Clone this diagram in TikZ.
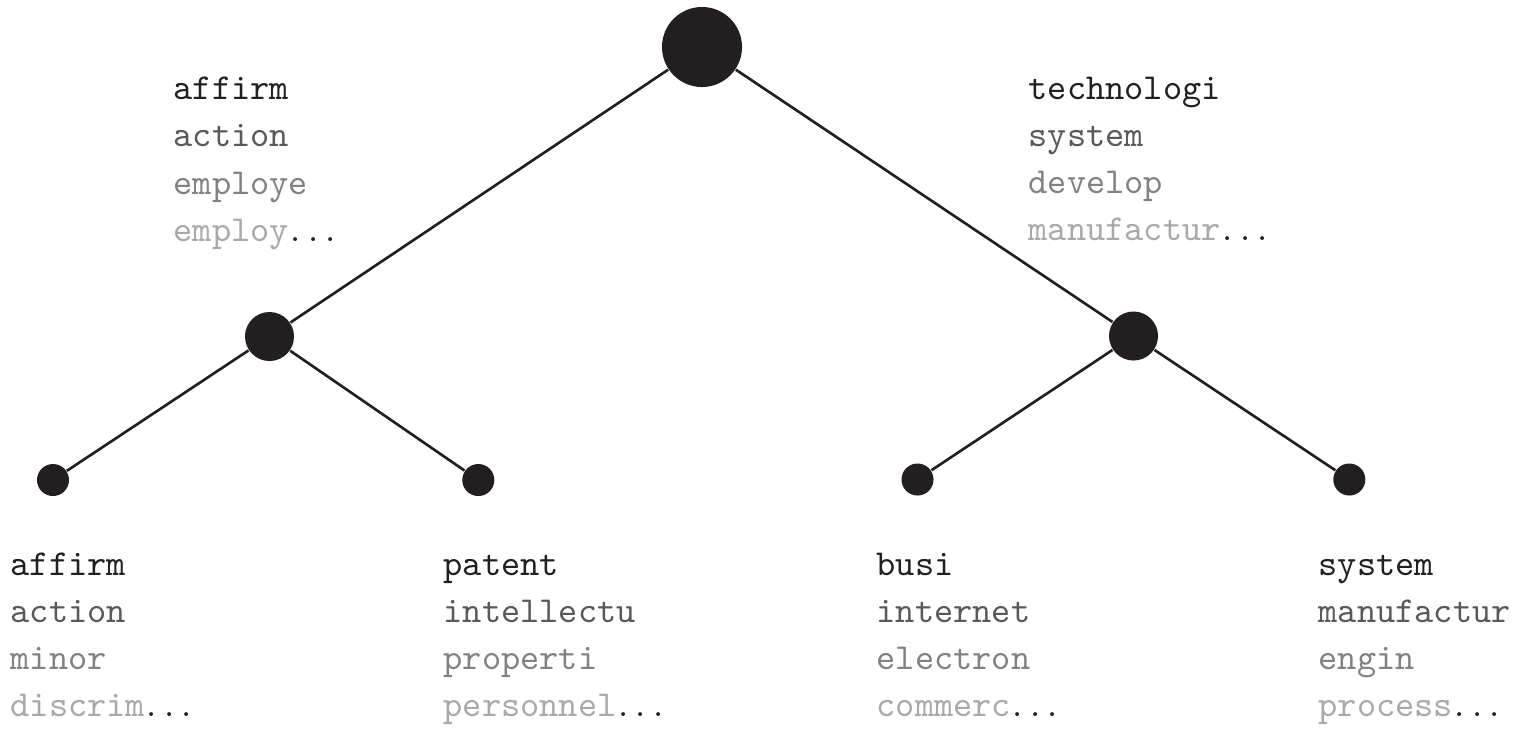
\documentclass[tikz,border=0pt]{standalone}
\usepackage{xcolor}
\usepackage{tikz}
\definecolor{Ink}  {HTML}{231F20}
\definecolor{WordA}{HTML}{231F20}
\definecolor{WordB}{HTML}{58595B}
\definecolor{WordC}{HTML}{808285}
\definecolor{WordD}{HTML}{A7A9AC}
\newcommand{\moreterms}{\textcolor{Ink}{\rmfamily\kern0.05em.\kern0.2em.\kern0.2em.}}

\begin{document}
\begin{tikzpicture}[x=0.01cm, y=-0.01cm,
  dot/.style={circle, fill=Ink, inner sep=0pt},
  edge/.style={line width=0.75pt, Ink},
  word/.style={anchor=base west, inner sep=0pt,
               font=\ttfamily\fontsize{10.4}{12}\selectfont}]

  \useasboundingbox (0,0) rectangle (1528,729);

  % ===== TREE NODES =====
  \node[dot, minimum size=0.80cm] (root) at (702,47) {};
  \node[dot, minimum size=0.49cm] (midL) at (269.5,336.5) {};
  \node[dot, minimum size=0.49cm] (midR) at (1133.5,336) {};
  \node[dot, minimum size=0.32cm] (leafA) at (53,480) {};
  \node[dot, minimum size=0.32cm] (leafB) at (478.3,480) {};
  \node[dot, minimum size=0.32cm] (leafC) at (917.5,479.5) {};
  \node[dot, minimum size=0.32cm] (leafD) at (1349.3,479.5) {};

  % ===== EDGES =====
  \draw[edge] (root) -- (midL);
  \draw[edge] (root) -- (midR);
  \draw[edge] (midL) -- (leafA);
  \draw[edge] (midL) -- (leafB);
  \draw[edge] (midR) -- (leafC);
  \draw[edge] (midR) -- (leafD);

  % ===== TERM LISTS (darkest first, then fading) =====
  \foreach \n/\x/\y/\a/\b/\c/\d in {
      termL/173/99.5/affirm/action/employe/employ,
      termR/1028/99/technologi/system/develop/manufactur,
      termA/10/575/affirm/action/minor/discrim,
      termB/443/575/patent/intellectu/properti/personnel,
      termC/876/575/busi/internet/electron/commerc,
      termD/1318/575/system/manufactur/engin/process}{
    \node[word, text=WordA] (\n-1) at (\x,\y) {\a};
    \node[word, text=WordB] (\n-2) at (\x,\y+47.3) {\b};
    \node[word, text=WordC] (\n-3) at (\x,\y+94.6) {\c};
    \node[word, text=WordD] (\n-4) at (\x,\y+141.9) {\d\moreterms};
  }

\end{tikzpicture}
\end{document}
